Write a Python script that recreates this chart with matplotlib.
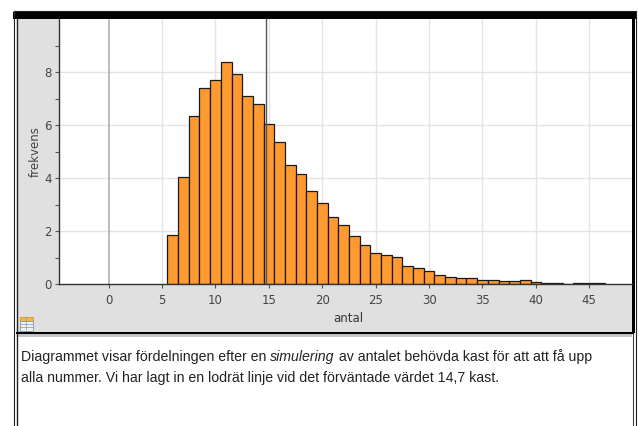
import numpy as np
import matplotlib
matplotlib.use('Agg')
import matplotlib.pyplot as plt
from matplotlib.patches import Rectangle
from matplotlib.lines import Line2D

# data (bins of width 1, centred on integers)
antal = np.arange(6, 47)
frekvens = [1.84, 4.03, 6.34, 7.40, 7.70, 8.40, 7.92, 7.12, 6.79, 6.03,
            5.38, 4.48, 4.15, 3.50, 3.07, 2.52, 2.24, 1.80, 1.48, 1.19,
            1.08, 1.02, 0.67, 0.60, 0.48, 0.35, 0.28, 0.21, 0.21, 0.17,
            0.15, 0.11, 0.10, 0.14, 0.09, 0.05, 0.05, 0.0, 0.05, 0.05, 0.05]
expected = 14.7
xticks = [0, 5, 10, 15, 20, 25, 30, 35, 40, 45]
yticks = [0, 2, 4, 6, 8]

text_pre = "Diagrammet visar fördelningen efter en "
text_it = "simulering"
text_post = " av antalet behövda kast för att att få upp"
text_line2 = "alla nummer. Vi har lagt in en lodrät linje vid det förväntade värdet 14,7 kast."

W, H = 639, 426
fig = plt.figure(figsize=(W / 100, H / 100), dpi=100)
fig.patch.set_facecolor('white')


def fx(px):
    return px / W


def fy(py):
    return 1 - py / H


def rect(x0, y0, x1, y1, **kw):
    # rectangle in pixel coords (top-left origin)
    fig.add_artist(Rectangle((fx(x0), fy(y1)), fx(x1) - fx(x0), fy(y0) - fy(y1),
                             transform=fig.transFigure, **kw))


def line(xs, ys, **kw):
    fig.add_artist(Line2D([fx(v) for v in xs], [fy(v) for v in ys],
                          transform=fig.transFigure, **kw))


# frames and panel background
rect(17, 19, 632, 333, facecolor='#e0e0e0', edgecolor='none', zorder=-2)
rect(17, 333, 632, 337, facecolor='#c8c8c8', edgecolor='none', zorder=-2)
rect(13, 12, 636, 19, facecolor='black', edgecolor='none')
line([13.5, 635.5], [10.5, 10.5], color='#222222', lw=0.8)
line([13.5, 13.5], [10.5, 426], color='#222222', lw=0.8)
line([635.5, 635.5], [10.5, 426], color='#222222', lw=0.8)
line([16.5, 16.5], [19, 426], color='#222222', lw=1.0)
rect(632, 19, 634.5, 333, facecolor='black', edgecolor='none')
line([632.5, 632.5], [333, 426], color='#444444', lw=0.8)
line([16.5, 633], [332.5, 332.5], color='black', lw=1.5)

# plot area
ax = fig.add_axes([fx(58.7), fy(284), fx(631.7) - fx(58.7), fy(19.3) - fy(284)])
ax.set_zorder(5)
ax.set_facecolor('white')
ax.set_xlim(-4.68, 48.97)
ax.set_ylim(0, 10)

for v in xticks[1:]:
    ax.axvline(v, color='#e4e4e4', lw=1.0, zorder=0)
for v in yticks[1:]:
    ax.axhline(v, color='#e4e4e4', lw=1.0, zorder=0)
ax.axvline(0, color='#b0b0b0', lw=1.2, zorder=0.5)

ax.bar(antal, frekvens, width=1.0, color='#ff9a30', edgecolor='#1a1a1a',
       linewidth=0.9, zorder=2)
ax.axvline(expected, color='#555555', lw=1.0, zorder=3)

for s in ['top', 'right']:
    ax.spines[s].set_visible(False)
ax.spines['left'].set_color('#333333')
ax.spines['bottom'].set_color('#333333')
ax.spines['left'].set_linewidth(1.0)
ax.spines['bottom'].set_linewidth(1.0)

ax.set_xticks(xticks)
ax.set_yticks(yticks)
ax.set_yticks([1, 3, 5, 7, 9], minor=True)
ax.tick_params(axis='both', colors='#555555', labelcolor='#444444',
               labelsize=8.5, length=3, width=0.8)
ax.tick_params(axis='y', which='minor', length=3, width=0.8, colors='#555555')
ax.tick_params(axis='x', pad=4)
ax.tick_params(axis='y', pad=2)

fig.text(fx(35), fy(152), 'frekvens', rotation=90, ha='center', va='center',
         fontsize=8.5, color='#444444')
fig.text(fx(348), fy(318), 'antal', ha='center', va='center',
         fontsize=8.5, color='#333333')

# small table icon in the corner
rect(19.5, 317, 32.5, 320.5, facecolor='#f7b548', edgecolor='#d08a20', lw=0.5)
rect(19.5, 320.5, 32.5, 330.5, facecolor='#eef2f6', edgecolor='#8898aa', lw=0.6)
line([19.5, 32.5], [324, 324], color='#8898aa', lw=0.5)
line([19.5, 32.5], [327.3, 327.3], color='#8898aa', lw=0.5)
line([26, 26], [317, 330.5], color='#8898aa', lw=0.5)

# description text under the chart, with the italic word
fam = ['Liberation Sans', 'DejaVu Sans']
fs = 10.2
y1, y2 = 361, 382
t1 = fig.text(fx(21), fy(y1), text_pre, fontsize=fs, family=fam, color='#222222')
fig.canvas.draw()
r = fig.canvas.get_renderer()
x_next = t1.get_window_extent(r).x1
t2 = fig.text(x_next / W, fy(y1), text_it, fontsize=fs, family=fam,
              style='italic', color='#222222')
fig.canvas.draw()
x_next = t2.get_window_extent(r).x1
fig.text(x_next / W, fy(y1), text_post, fontsize=fs, family=fam, color='#222222')
fig.text(fx(21), fy(y2), text_line2, fontsize=fs, family=fam, color='#222222')

fig.savefig('out.png', dpi=100, facecolor='white')
